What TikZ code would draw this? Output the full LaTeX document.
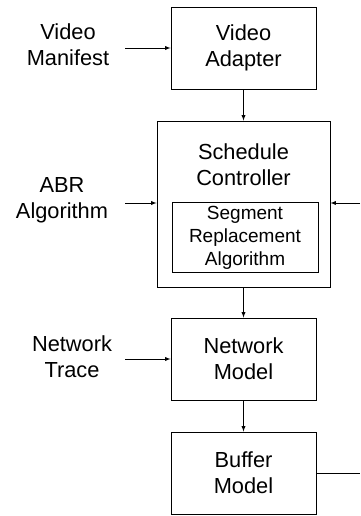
\documentclass[tikz,border=0pt]{standalone}
\usepackage{fontspec}
\setmainfont{Liberation Sans}
\usetikzlibrary{arrows}

\begin{document}
\begin{tikzpicture}[x=1pt,y=-1pt,>=latex,line width=0.9pt,
  block node/.style={rectangle,draw,minimum width=145pt,minimum height=82pt,align=center,font=\fontsize{21.8}{26}\selectfont},
  input node/.style={align=center,font=\fontsize{21.8}{26}\selectfont}]

  \useasboundingbox (0,0) rectangle (360,516);

  \node[block node] (adapter) at (243.5,48) {Video\\Adapter};
  \node[block node,minimum width=173pt,minimum height=166pt] (ctrl) at (243.5,204) {};
  \node[input node] (ctrltext) at (243.5,165) {Schedule\\Controller};
  \node[block node,minimum width=146pt,minimum height=67pt,font=\fontsize{19}{23}\selectfont] (replace) at (245,237.5) {Segment\\Replacement\\Algorithm};
  \node[block node] (network) at (243.5,359) {Network\\Model};
  \node[block node] (buffer) at (243.5,473) {Buffer\\Model};

  \node[input node] (manifest) at (68,45) {Video\\Manifest};
  \node[input node] (abr) at (62,200) {ABR\\Algorithm};
  \node[input node] (trace) at (72,357) {Network\\Trace};

  \coordinate (fbin) at (360,203);
  \coordinate (fbout) at (360,473);

  \draw[->] (125,48) to (adapter.west);
  \draw[->] (125,203) to (ctrl.west |- fbin);
  \draw[->] (125,359) to (network.west);
  \draw[->] (fbin) to (ctrl.east |- fbin);
  \draw[->] (adapter) to (ctrl);
  \draw[->] (ctrl) to (network);
  \draw[->] (network) to (buffer);
  \draw (buffer.east) to (fbout);
\end{tikzpicture}
\end{document}
